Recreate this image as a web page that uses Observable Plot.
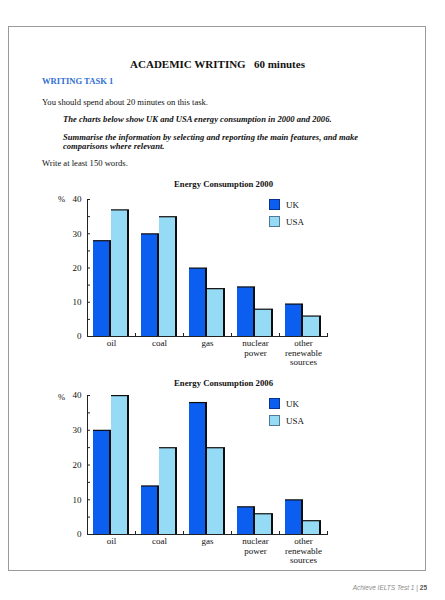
<!DOCTYPE html>
<html><head><meta charset="utf-8">
<script src="https://cdn.jsdelivr.net/npm/d3@7"></script>
<script src="https://cdn.jsdelivr.net/npm/@observablehq/plot@0.6"></script>
<style>
body{margin:0;background:#fff;width:445px;height:600px;position:relative;overflow:hidden;font-family:"Liberation Serif","Times New Roman",serif;color:#111}
.abs{position:absolute;white-space:pre;line-height:1}
#frame{position:absolute;left:8px;top:26px;width:418px;height:545px;border:1px solid #9a9a9a;box-sizing:border-box}
.chart{position:absolute;left:0;width:445px}
.sw{position:absolute;width:11px;height:11px;box-sizing:border-box;border:1px solid rgba(0,0,30,0.45)}
.lg{position:absolute;font-size:9px;line-height:1}
</style></head><body>
<div id="frame"></div>
<div class="abs" style="left:0;width:435px;text-align:center;top:59px;font-size:11px;font-weight:bold">ACADEMIC WRITING   60 minutes</div>
<div class="abs" style="left:42px;top:77px;font-size:8.6px;font-weight:bold;color:#2f6fd3">WRITING TASK 1</div>
<div class="abs" style="left:42px;top:97.5px;font-size:8.6px">You should spend about 20 minutes on this task.</div>
<div class="abs" style="left:63px;top:115px;font-size:8.6px;font-weight:bold;font-style:italic">The charts below show UK and USA energy consumption in 2000 and 2006.</div>
<div class="abs" style="left:63px;top:132.5px;font-size:8.6px;font-weight:bold;font-style:italic;line-height:9px">Summarise the information by selecting and reporting the main features, and make
comparisons where relevant.</div>
<div class="abs" style="left:42px;top:158.5px;font-size:8.6px">Write at least 150 words.</div>
<div class="abs" style="left:0;width:447px;text-align:center;top:179.5px;font-size:8.7px;font-weight:bold">Energy Consumption 2000</div>
<div class="abs" style="left:0;width:447px;text-align:center;top:378.5px;font-size:8.7px;font-weight:bold">Energy Consumption 2006</div>
<div class="abs" style="left:58px;top:195px;font-size:8.6px">%</div>
<div class="abs" style="left:58px;top:393px;font-size:8.6px">%</div>
<div id="c1" class="chart" style="top:188px"></div>
<div id="c2" class="chart" style="top:384px"></div>
<div id="leg1"></div>
<div id="leg2"></div>
<div class="abs" style="right:18px;top:585px;font-family:'Liberation Sans',Arial,sans-serif;font-size:6.5px;color:#8a8a8a"><i>Achieve IELTS Test 1</i> | <b style="color:#555">25</b></div>
<script>
const categories = ["oil", "coal", "gas", "nuclear\npower", "other\nrenewable\nsources"];
const series = ["UK", "USA"];
const uk2000 = [28, 30, 20, 14.5, 9.5];
const usa2000 = [37, 35, 14, 8, 6];
const uk2006 = [30, 14, 38, 8, 10];
const usa2006 = [40, 25, 25, 6, 4];
const yLabels = [0, 10, 20, 30, 40];
const yMinor = [5, 15, 25, 35];
const colors = ["#0c5ef0", "#96dbf5"];

function rows(uk, usa) {
  return categories.flatMap((c, i) => [
    {cat: c, series: "UK", value: uk[i]},
    {cat: c, series: "USA", value: usa[i]}
  ]);
}

function chart(data, height) {
  const mt = 11, mb = 42, ph = height - mt - mb;
  return Plot.plot({
    width: 445, height,
    marginLeft: 86, marginRight: 118, marginTop: mt, marginBottom: mb,
    style: {fontFamily: '"Liberation Serif", "Times New Roman", serif', fontSize: "9px", background: "transparent", color: "#111"},
    fx: {domain: categories, padding: 0, label: null, axis: null},
    x: {domain: series, paddingInner: 0, paddingOuter: 0.27, axis: null},
    y: {domain: [0, 40], axis: null, label: null},
    color: {domain: series, range: colors},
    marks: [
      Plot.barY(data, {fx: "cat", x: "series", y: "value", fill: "#0d0d0d"}),
      Plot.barY(data, {fx: "cat", x: "series", y: "value", fill: "series", insetRight: 2, insetTop: 1.2}),
      Plot.ruleY([0], {stroke: "#222", strokeWidth: 1.1}),
      Plot.frame({anchor: "right", insetTop: ph - 3, stroke: "#222"}),
      Plot.frame({anchor: "left", facetAnchor: "left", stroke: "#222"}),
      Plot.axisY({ticks: yMinor.concat(yLabels), tickSize: 3, dx: 3, tickFormat: () => "", label: null, stroke: "#222"}),
      Plot.axisY({ticks: yLabels, tickSize: 0, tickPadding: 6, tickFormat: d => String(d), label: null}),
      Plot.axisFx({anchor: "bottom", tickSize: 0, tickPadding: 3, lineHeight: 1.05, label: null})
    ]
  });
}

function legend(el, top) {
  series.forEach((s, i) => {
    const y = top + i * 17;
    const sw = document.createElement("div");
    sw.className = "sw";
    sw.style.left = "269px"; sw.style.top = y + "px"; sw.style.background = colors[i];
    const t = document.createElement("div");
    t.className = "lg";
    t.style.left = "286px"; t.style.top = (y + 1.5) + "px";
    t.textContent = s;
    el.appendChild(sw); el.appendChild(t);
  });
}

document.getElementById("c1").appendChild(chart(rows(uk2000, usa2000), 190));
document.getElementById("c2").appendChild(chart(rows(uk2006, usa2006), 192));
legend(document.getElementById("leg1"), 199);
legend(document.getElementById("leg2"), 398);
</script>
</body></html>
